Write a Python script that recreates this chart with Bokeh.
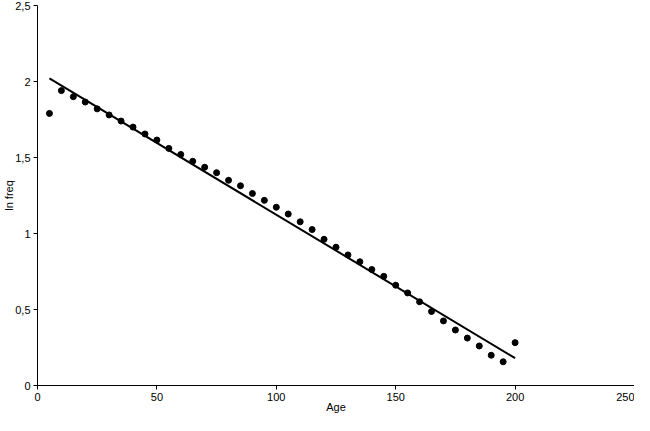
from bokeh.plotting import figure
from bokeh.models import Range1d, FixedTicker, CustomJSTickFormatter
from bokeh.embed import file_html
from bokeh.resources import INLINE

age = [5, 10, 15, 20, 25, 30, 35, 40, 45, 50, 55, 60, 65, 70, 75, 80, 85, 90, 95, 100,
       105, 110, 115, 120, 125, 130, 135, 140, 145, 150, 155, 160, 165, 170, 175, 180,
       185, 190, 195, 200]
ln_freq = [1.79, 1.94, 1.90, 1.865, 1.82, 1.78, 1.74, 1.70, 1.655, 1.615, 1.56, 1.52,
           1.475, 1.436, 1.40, 1.35, 1.314, 1.263, 1.218, 1.173, 1.128, 1.077, 1.026,
           0.962, 0.91, 0.859, 0.814, 0.763, 0.718, 0.66, 0.609, 0.551, 0.487, 0.425,
           0.365, 0.312, 0.26, 0.199, 0.156, 0.282]
trend_x = [5, 200]
trend_y = [2.02, 0.18]
x_ticks = [0, 50, 100, 150, 200, 250]
y_ticks = [0, 0.5, 1, 1.5, 2, 2.5]

p = figure(width=634, height=415, output_backend="svg", toolbar_location=None,
           x_range=Range1d(0, 250), y_range=Range1d(0, 2.5))
p.min_border_left = 0
p.min_border_right = 0
p.min_border_top = 5
p.min_border_bottom = 0
p.outline_line_color = None
p.xgrid.visible = False
p.ygrid.visible = False
p.background_fill_color = "white"
p.border_fill_color = "white"

p.line(trend_x, trend_y, line_color="black", line_width=2)
p.scatter(age, ln_freq, size=6, fill_color="black", line_color="black")

for ax in (p.xaxis[0], p.yaxis[0]):
    ax.axis_line_color = "black"
    ax.major_tick_line_color = "black"
    ax.major_tick_out = 4
    ax.major_tick_in = 0
    ax.minor_tick_line_color = None
    ax.major_label_text_font = "Liberation Sans"
    ax.major_label_text_font_size = "11px"
    ax.major_label_text_color = "black"
    ax.axis_label_text_font = "Liberation Sans"
    ax.axis_label_text_font_size = "11px"
    ax.axis_label_text_font_style = "normal"
    ax.axis_label_text_color = "black"
    ax.major_label_standoff = 3
    ax.axis_label_standoff = -3

p.xaxis[0].axis_label = "Age"
p.yaxis[0].axis_label = "ln freq"
p.xaxis[0].ticker = FixedTicker(ticks=x_ticks)
p.yaxis[0].ticker = FixedTicker(ticks=y_ticks)
p.yaxis[0].formatter = CustomJSTickFormatter(code="return tick.toString().replace('.', ',');")

open("out.html", "w").write(file_html(p, INLINE))
